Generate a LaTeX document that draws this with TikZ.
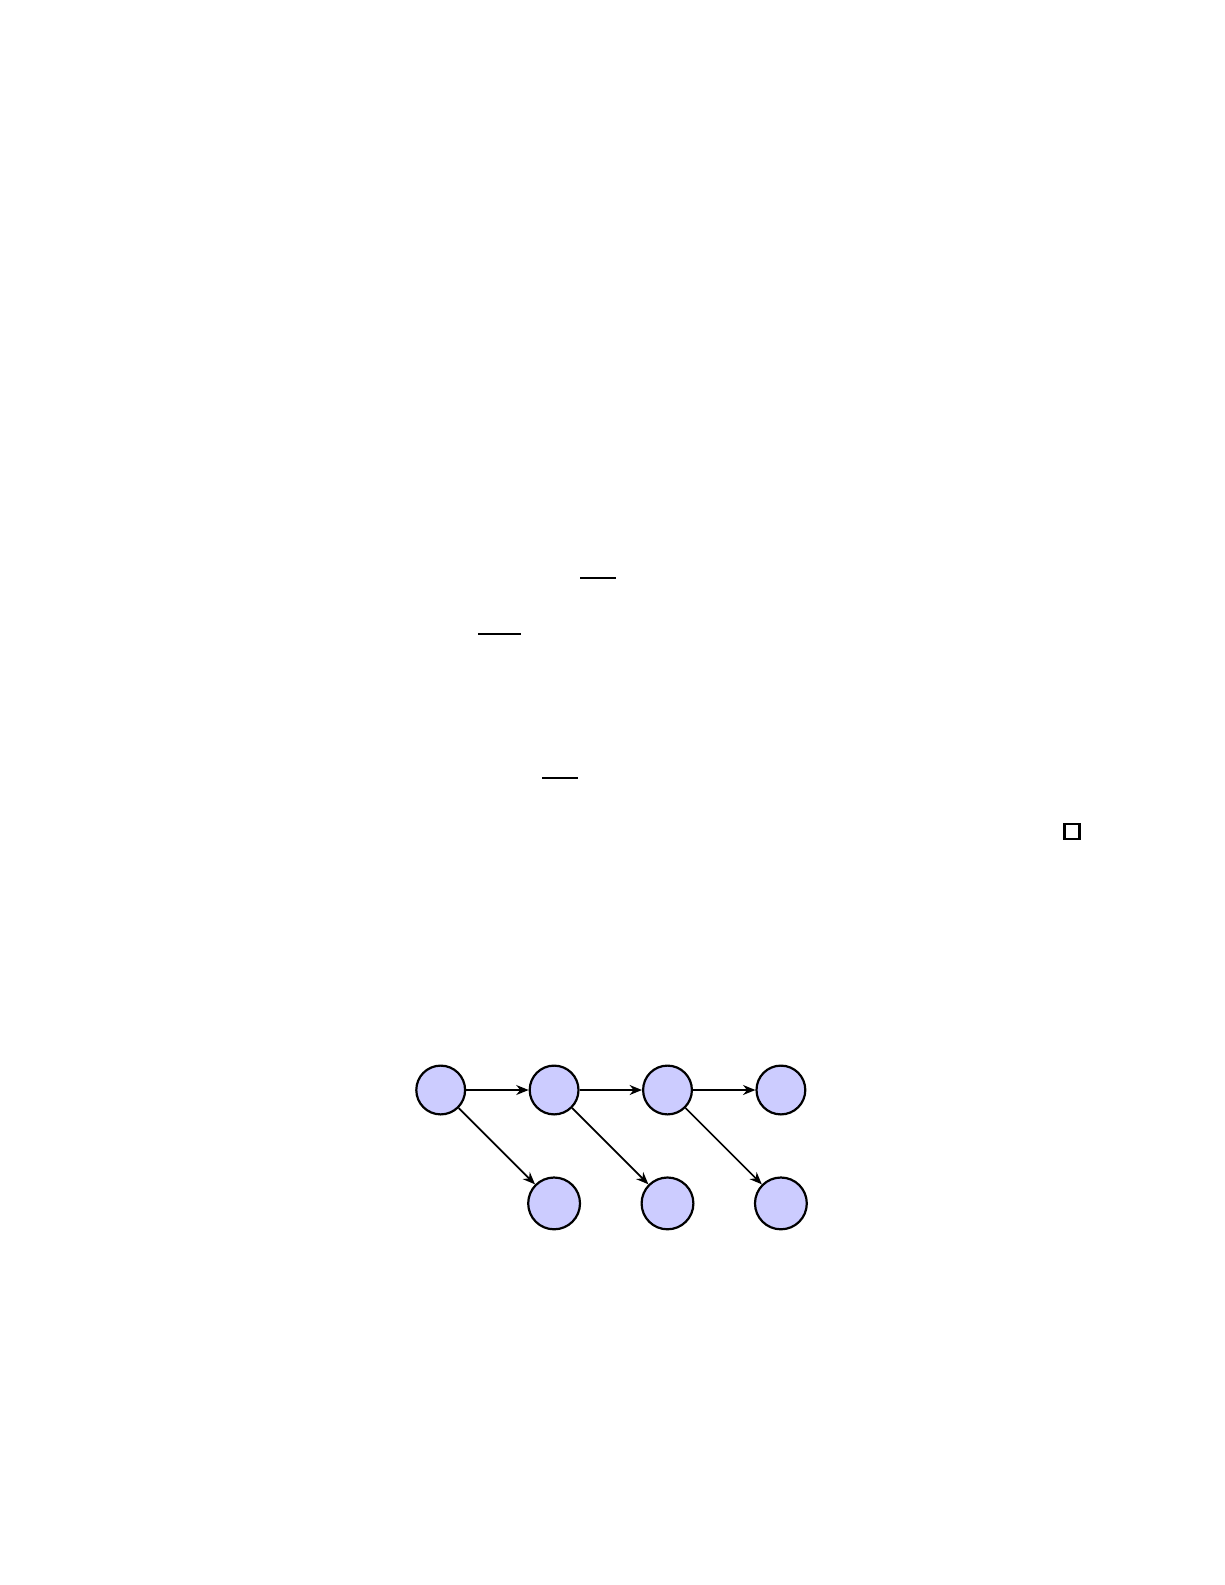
\documentclass[tikz,border=0pt]{standalone}
\usetikzlibrary{arrows.meta}
\begin{document}
\begin{tikzpicture}[x=0.5pt,y=-0.5pt,
  topnode/.style={circle,draw=black,fill=blue!20,line width=1.1pt,minimum size=24.4pt,inner sep=0pt},
  botnode/.style={circle,draw=black,fill=blue!20,line width=1.1pt,minimum size=25.9pt,inner sep=0pt},
  conn/.style={line width=0.85pt,-{Stealth[length=6.2pt,width=5pt]}},
  bar/.style={line width=1.2pt}]
\useasboundingbox (0,0) rectangle (1225,1585);
% rules
\coordinate (a1) at (580,577.8); \coordinate (a2) at (616,577.8);
\coordinate (b1) at (478,634); \coordinate (b2) at (521,634);
\coordinate (c1) at (542,777.8); \coordinate (c2) at (578,777.8);
\draw[bar] (a1) -- (a2);
\draw[bar] (b1) -- (b2);
\draw[bar] (c1) -- (c2);
% qed box
\coordinate (q1) at (1064.3,823.8); \coordinate (q2) at (1079.3,838.8);
\draw[line width=1.2pt] (q1) rectangle (q2);
% graph
\node[topnode] (t1) at (440.7,1090) {};
\node[topnode] (t2) at (554.1,1090) {};
\node[topnode] (t3) at (667.5,1090) {};
\node[topnode] (t4) at (780.9,1090) {};
\node[botnode] (u2) at (554.1,1203.4) {};
\node[botnode] (u3) at (667.5,1203.4) {};
\node[botnode] (u4) at (780.9,1203.4) {};
\draw[conn] (t1) -- (t2);
\draw[conn] (t2) -- (t3);
\draw[conn] (t3) -- (t4);
\draw[conn] (t1) -- (u2);
\draw[conn] (t2) -- (u3);
\draw[conn] (t3) -- (u4);
\end{tikzpicture}
\end{document}
